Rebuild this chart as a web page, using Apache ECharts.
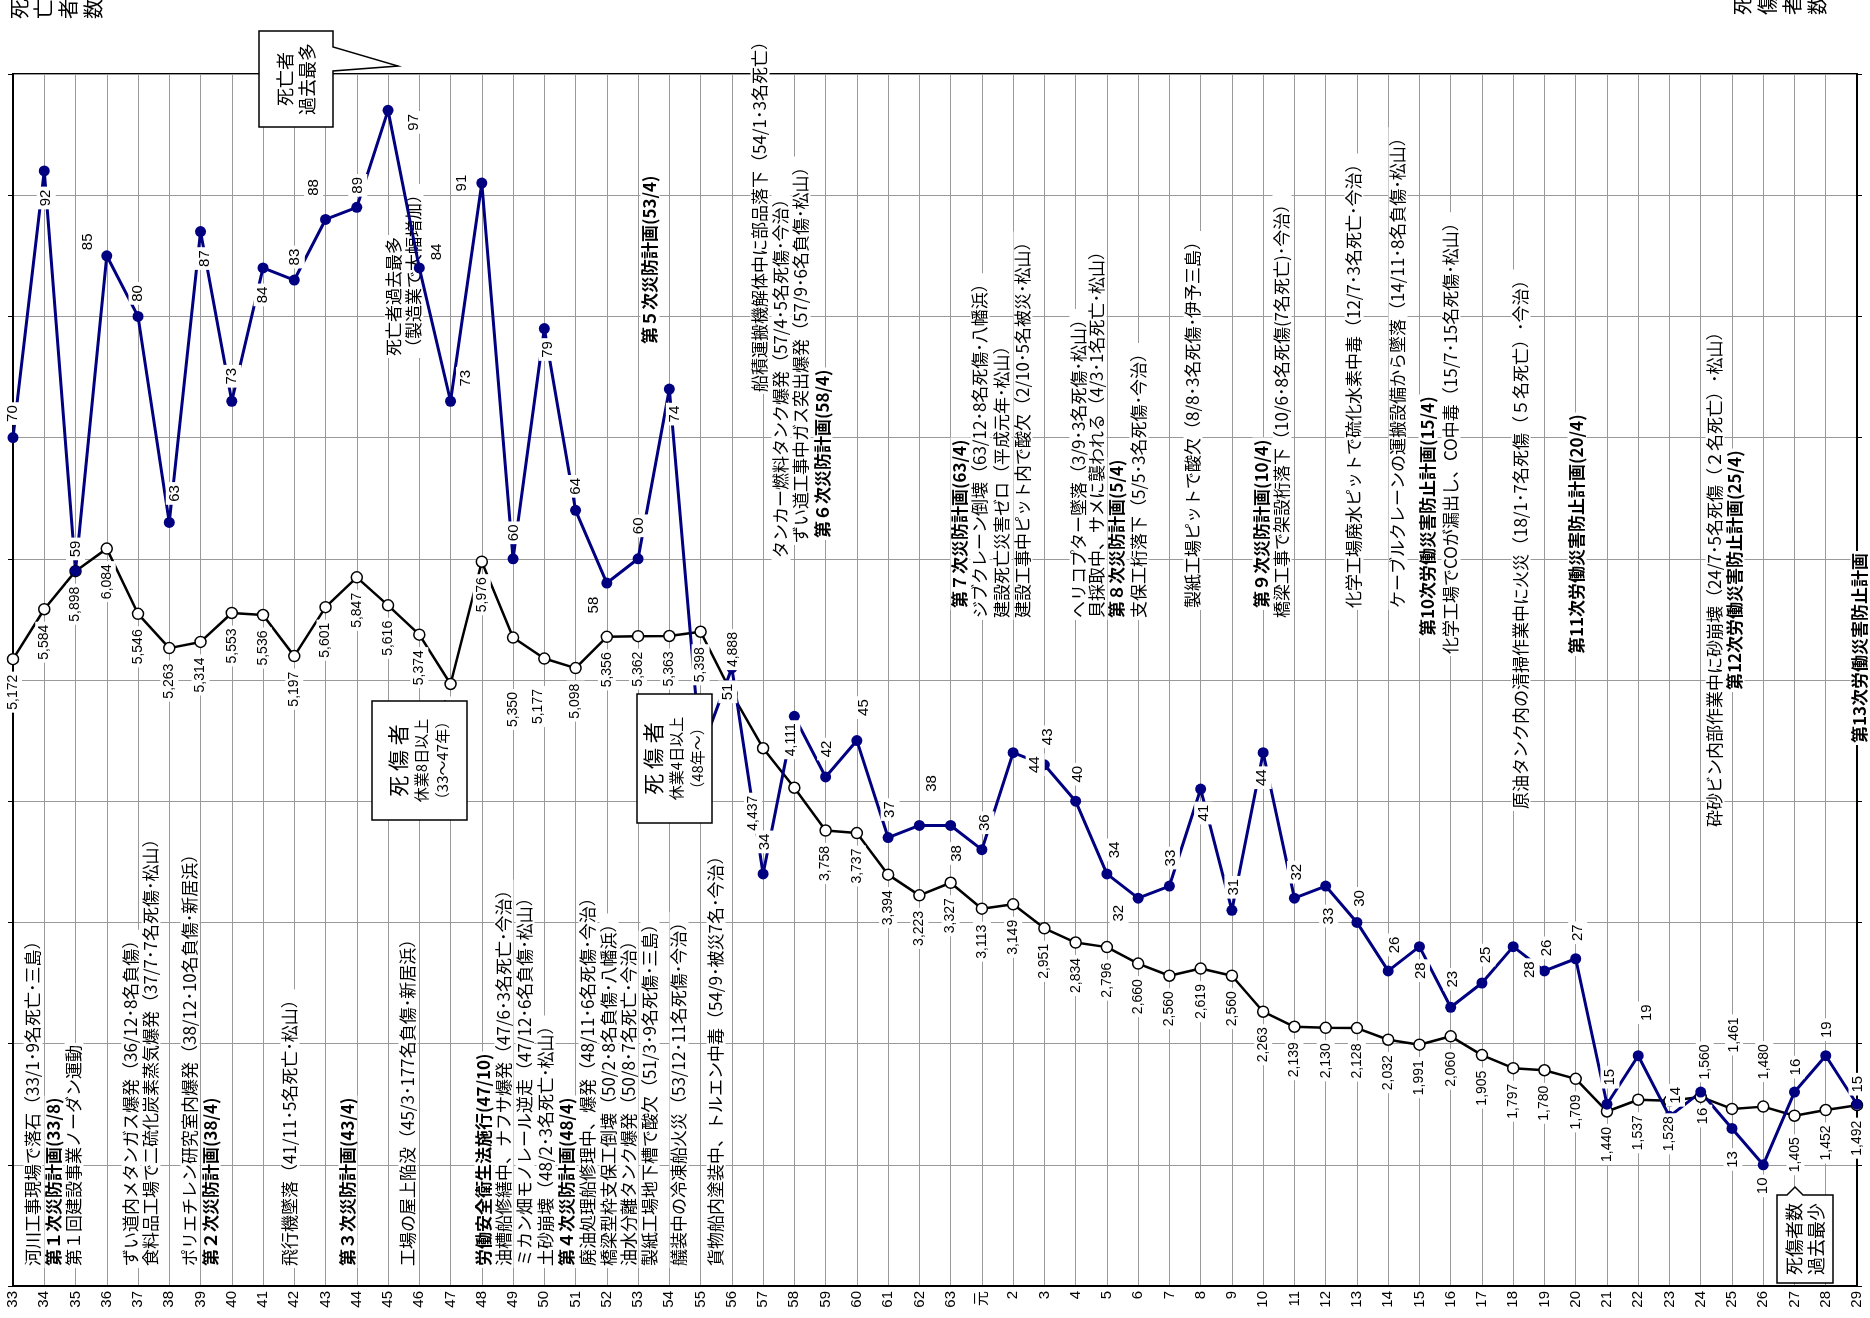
<!DOCTYPE html>
<html><head><meta charset="utf-8">
<script src="https://cdn.jsdelivr.net/npm/echarts/dist/echarts.min.js"></script>
<style>html,body{margin:0;padding:0;background:#fff}#c{width:1870px;height:1318px}</style>
</head><body><div id="c"></div>
<script>
// ---- data ----
const categories = ['33','34','35','36','37','38','39','40','41','42','43','44','45','46','47','48','49','50','51','52','53','54','55','56','57','58','59','60','61','62','63','元','2','3','4','5','6','7','8','9','10','11','12','13','14','15','16','17','18','19','20','21','22','23','24','25','26','27','28','29'];
const deaths = [70,92,59,85,80,63,87,73,84,83,88,89,97,84,73,91,60,79,64,58,60,74,44,51,34,47,42,45,37,38,38,36,44,43,40,34,32,33,41,31,44,32,33,30,26,28,23,25,28,26,27,15,19,14,16,13,10,16,19,15];
const casualties = [5172,5584,5898,6084,5546,5263,5314,5553,5536,5197,5601,5847,5616,5374,4967,5976,5350,5177,5098,5356,5362,5363,5398,4888,4437,4111,3758,3737,3394,3223,3327,3113,3149,2951,2834,2796,2660,2560,2619,2560,2263,2139,2130,2128,2032,1991,2060,1905,1797,1780,1709,1440,1537,1528,1560,1461,1480,1405,1452,1492];
const leftAxisName = '死亡者数';
const rightAxisName = '死傷者数';

// ---- label placement (style): screen offsets [dx, dy] of label centre from the point ----
const deathLabelOffset = [[0,-24],[2,27],[0,-22],[-19,-14],[0,-23],[6,-29],[4,27],[0,-25],[0,27],[1,-23],
  [-12,-32],[1,-22],[26,12],[18,-16],[15,-23],[-20,0],[1,-26],[4,21],[0,-24],[-13,22],
  [1,-33],[6,25],[0,-26],[-4,24],[2,-32],null,[1,-28],[7,-33],[2,-28],[12,-42],
  [6,28],[3,-27],[22,12],[3,-28],[2,-27],[8,-24],[-19,15],[1,-28],[3,24],[2,-23],
  [-1,25],[2,-26],[3,30],[3,-24],[7,-26],[1,24],[2,-28],[4,-28],[17,23],[2,-23],
  [2,-26],[3,-27],[9,-43],[6,-21],[2,24],[1,31],[0,21],[1,-25],[1,-26],[1,-20]];
const casLabelOffset = casualties.map(() => [0,33]);
Object.assign(casLabelOffset, {16:[0,72],17:[-6,48],23:[1,-44],24:[-10,65],25:[-3,-48],54:[4,-35],55:[2,-74],56:[1,-45],57:[1,39]});
// label is rotated 90deg, its offset is applied in the rotated frame
const toLocal = o => [-o[1], o[0]];

// ---- notes ----
const notes = [
 {x:33,y:1268,t:'河川工事現場で落石（33/1･9名死亡･三島）'},
 {x:54,y:1268,t:'第１次災防計画(33/8)',b:1},
 {x:74,y:1268,t:'第１回建設事業ノーダン運動'},
 {x:131,y:1268,t:'ずい道内メタンガス爆発（36/12･8名負傷）'},
 {x:151,y:1268,t:'食料品工場で二硫化炭素蒸気爆発（37/7･7名死傷･松山）'},
 {x:190,y:1268,t:'ポリエチレン研究室内爆発（38/12･10名負傷･新居浜）'},
 {x:211,y:1268,t:'第２次災防計画(38/4)',b:1},
 {x:290,y:1268,t:'飛行機墜落（41/11･5名死亡･松山）'},
 {x:348,y:1268,t:'第３次災防計画(43/4)',b:1},
 {x:408,y:1268,t:'工場の屋上陥没（45/3･177名負傷･新居浜）'},
 {x:484,y:1268,t:'労働安全衛生法施行(47/10)',b:1},
 {x:504,y:1268,t:'油槽船修繕中、ナフサ爆発（47/6･3名死亡･今治）'},
 {x:525,y:1268,t:'ミカン畑モノレール逆走（47/12･6名負傷･松山）'},
 {x:546,y:1268,t:'土砂崩壊（48/2･3名死亡･松山）'},
 {x:567,y:1268,t:'第４次災防計画(48/4)',b:1},
 {x:588,y:1268,t:'廃油処理船修理中、爆発（48/11･6名死傷･今治）'},
 {x:609,y:1268,t:'橋梁型枠支保工倒壊（50/2･8名負傷･八幡浜）'},
 {x:629,y:1268,t:'油水分離タンク爆発（50/8･7名死亡･今治）'},
 {x:650,y:1268,t:'製紙工場地下槽で酸欠（51/3･9名死傷･三島）'},
 {x:679,y:1268,t:'艤装中の冷凍船火災（53/12･11名死傷･今治）'},
 {x:716,y:1268,t:'貨物船内塗装中、トルエン中毒（54/9･被災7名･今治）'},
 {x:394,y:358,t:'死亡者過去最多'},
 {x:414,y:358,t:'（製造業で大幅増加）'},
 {x:650,y:346,t:'第５次災防計画(53/4)',b:1},
 {x:760,y:394,t:'船積運搬機解体中に部品落下（54/1･3名死亡）'},
 {x:781,y:560,t:'タンカー燃料タンク爆発（57/4･5名死傷･今治）'},
 {x:801,y:545,t:'ずい道工事中ガス突出爆発（57/9･6名負傷･松山）'},
 {x:823,y:540,t:'第６次災防計画(58/4)',b:1},
 {x:960,y:610,t:'第７次災防計画(63/4)',b:1},
 {x:980,y:620,t:'ジブクレーン倒壊（63/12･8名死傷･八幡浜）'},
 {x:1002,y:620,t:'建設死亡災害ゼロ（平成元年･松山）'},
 {x:1023,y:620,t:'建設工事中ピット内で酸欠（2/10･5名被災･松山）'},
 {x:1079,y:620,t:'ヘリコプター墜落（3/9･3名死傷･松山）'},
 {x:1097,y:620,t:'貝採取中、サメに襲われる（4/3･1名死亡･松山）'},
 {x:1117,y:620,t:'第８次災防計画(5/4)',b:1},
 {x:1139,y:620,t:'支保工桁落下（5/5･3名死傷･今治）'},
 {x:1193,y:610,t:'製紙工場ピットで酸欠（8/8･3名死傷･伊予三島）'},
 {x:1262,y:610,t:'第９次災防計画(10/4)',b:1},
 {x:1282,y:620,t:'橋梁工事で架設桁落下（10/6･8名死傷(7名死亡)･今治）'},
 {x:1354,y:610,t:'化学工場廃水ピットで硫化水素中毒（12/7･3名死亡･今治）'},
 {x:1398,y:610,t:'ケーブルクレーンの運搬設備から墜落（14/11･8名負傷･松山）'},
 {x:1428,y:638,t:'第10次労働災害防止計画(15/4)',b:1},
 {x:1451,y:656,t:'化学工場でCOが漏出し、CO中毒（15/7･15名死傷･松山）'},
 {x:1521,y:811,t:'原油タンク内の清掃作業中に火災（18/1･7名死傷（５名死亡）･今治）'},
 {x:1577,y:656,t:'第11次労働災害防止計画(20/4)',b:1},
 {x:1715,y:829,t:'砕砂ビン内部作業中に砂崩壊（24/7･5名死傷（２名死亡）･松山）'},
 {x:1735,y:692,t:'第12次労働災害防止計画(25/4)',b:1},
 {x:1860,y:745,t:'第13次労働災害防止計画',b:1}
];

const NUMFONT = '"Liberation Sans","Noto Sans CJK JP",sans-serif';
const JFONT = '"Noto Sans CJK JP","Liberation Sans",sans-serif';
const R = Math.PI/2;
const fmt = v => String(v).replace(/\B(?=(\d{3})+(?!\d))/g, ',');

const chart = echarts.init(document.getElementById('c'), null, {renderer:'canvas'});

const graphics = [];
notes.forEach(n => graphics.push({
  type:'text', x:n.x, y:n.y, rotation:R, z:1, silent:true,
  style:{text:n.t, fontSize:17, fontWeight:n.b?'bold':'normal', fontFamily:JFONT, fill:'#000',
    align:'left', verticalAlign:'middle', textAlign:'left', textVerticalAlign:'middle',
    backgroundColor:'#fff', padding:[1,2]}
}));
function rotText(x,y,text,size,lh){
  return {type:'text', x, y, rotation:R, z:20, silent:true,
    style:{text, fontSize:size, lineHeight:lh, fontFamily:JFONT, fill:'#000',
      align:'center', verticalAlign:'middle', textAlign:'center', textVerticalAlign:'middle'}};
}
// axis names: one rotated glyph per position
leftAxisName.split('').forEach((ch,i) => graphics.push(rotText(19+i*24.7, 9, ch, 20, 22)));
rightAxisName.split('').forEach((ch,i) => graphics.push(rotText(1742+i*25, 5, ch, 20, 22)));
// callout: deaths max
graphics.push({type:'polygon', z:19, silent:true, shape:{points:[[259,31],[333,31],[333,47],[398,66],[333,71],[333,127],[259,127]]}, style:{fill:'#fff', stroke:'#000', lineWidth:1.5}});
graphics.push(rotText(296,79,'死亡者\n過去最多',18,22));
// boxes
function richBox(x,y,w,h,l2,l3){
  graphics.push({type:'rect', z:19, silent:true, shape:{x,y,width:w,height:h}, style:{fill:'#fff', stroke:'#000', lineWidth:1.5}});
  graphics.push({type:'text', x:x+w/2, y:y+h/2, rotation:R, z:20, silent:true,
    style:{text:'{a|死 傷 者}\n{b|'+l2+'}\n{b|'+l3+'}', fontFamily:JFONT, fill:'#000',
      align:'center', verticalAlign:'middle', textAlign:'center', textVerticalAlign:'middle',
      rich:{a:{fontSize:21, lineHeight:24, fontFamily:JFONT}, b:{fontSize:15, lineHeight:21, fontFamily:JFONT}}}});
}
richBox(372,701,95,119,'休業8日以上','（33～47年）');
richBox(637,694,75,129,'休業4日以上','（48年～）');
// callout: casualties min
graphics.push({type:'polygon', z:19, silent:true, shape:{points:[[1777,1195],[1787,1195],[1795,1187],[1803,1195],[1833,1195],[1833,1283],[1777,1283]]}, style:{fill:'#fff', stroke:'#000', lineWidth:1.5}});
graphics.push(rotText(1805,1239,'死傷者数\n過去最少',18,22));

const labelBase = {show:true, position:'inside', rotate:90, fontFamily:NUMFONT, color:'#000',
  backgroundColor:'#fff', padding:[2,3]};

const option = {
  animation:false,
  backgroundColor:'#fff',
  grid:{left:13, right:13, top:74, bottom:32, show:true, borderColor:'#000', borderWidth:2, backgroundColor:'rgba(0,0,0,0)'},
  xAxis:{type:'category', data:categories, boundaryGap:false,
    axisLine:{lineStyle:{color:'#000', width:2}}, axisTick:{show:false},
    axisLabel:{rotate:90, color:'#000', fontSize:15, fontFamily:NUMFONT, margin:5, interval:0},
    splitLine:{show:true, lineStyle:{color:'#9a9a9a', width:1}}},
  yAxis:[
    {type:'value', min:0, max:100, interval:10, position:'left',
      axisLine:{show:true, lineStyle:{color:'#000', width:2}},
      axisTick:{show:true, length:5, lineStyle:{color:'#000'}}, axisLabel:{show:false},
      splitLine:{show:true, lineStyle:{color:'#9a9a9a', width:1}}},
    {type:'value', min:0, max:10000, interval:1000, position:'right',
      axisLine:{show:true, lineStyle:{color:'#000', width:2}},
      axisTick:{show:true, length:5, lineStyle:{color:'#000'}}, axisLabel:{show:false},
      splitLine:{show:false}}
  ],
  series:[
    {name:'死傷者数', type:'line', yAxisIndex:1, data:casualties, z:3, showAllSymbol:true,
      symbol:'circle', symbolSize:11, itemStyle:{color:'#fff', borderColor:'#000', borderWidth:1.5},
      lineStyle:{color:'#000', width:2.5}, emphasis:{disabled:true}, silent:true},
    {name:'死亡者数', type:'line', yAxisIndex:0, data:deaths, z:3, showAllSymbol:true,
      symbol:'circle', symbolSize:11, itemStyle:{color:'#000080'},
      lineStyle:{color:'#000080', width:3}, emphasis:{disabled:true}, silent:true},
    {name:'死傷者数ラベル', type:'line', yAxisIndex:1, z:4, showAllSymbol:true, silent:true,
      data:casualties.map((v,i)=>({value:v, label:{offset:toLocal(casLabelOffset[i])}})),
      symbol:'circle', symbolSize:1, itemStyle:{color:'rgba(0,0,0,0)'}, lineStyle:{width:0, opacity:0},
      emphasis:{disabled:true}, label:Object.assign({formatter:p=>fmt(p.value), fontSize:14}, labelBase)},
    {name:'死亡者数ラベル', type:'line', yAxisIndex:0, z:4, showAllSymbol:true, silent:true,
      data:deaths.map((v,i)=>deathLabelOffset[i] ? {value:v, label:{offset:toLocal(deathLabelOffset[i])}} : {value:v, label:{show:false}}),
      symbol:'circle', symbolSize:1, itemStyle:{color:'rgba(0,0,0,0)'}, lineStyle:{width:0, opacity:0},
      emphasis:{disabled:true}, label:Object.assign({formatter:p=>String(p.value), fontSize:15}, labelBase)}
  ],
  graphic:{elements:graphics}
};
chart.setOption(option);
</script></body></html>
